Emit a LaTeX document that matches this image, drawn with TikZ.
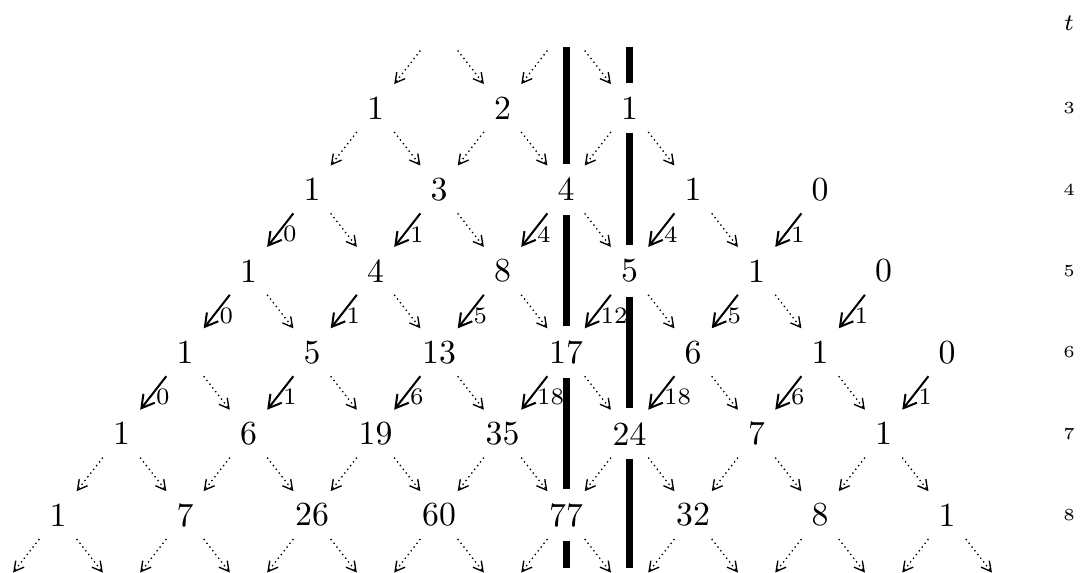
\documentclass[tikz,border=0pt]{standalone}
\usetikzlibrary{arrows.meta, calc}

\begin{document}
\begin{tikzpicture}[
    x=0.6615cm, y=-0.848cm,
    num/.style={inner sep=4pt},
    arr/.style={-{Straight Barb[length=1.3mm, width=1.5mm]}, semithick, shorten <=9pt, shorten >=9pt},
    dotarr/.style={-{Straight Barb[length=1mm, width=1.1mm]}, densely dotted, shorten <=9pt, shorten >=9pt},
    lbl/.style={right, pos=0.55, inner sep=1.5pt, font=\scriptsize},
    bar/.style={line width=2.1pt},
    tlab/.style={font=\tiny},
]

\useasboundingbox (-0.913,1.673) rectangle (16.14,8.70);

% numbers, row by row
\foreach \k/\v in {5/1, 7/2, 9/1} { \node[num] (n3-\k) at (\k,3) {\v}; }
\foreach \k/\v in {4/1, 6/3, 8/4, 10/1, 12/0} { \node[num] (n4-\k) at (\k,4) {\v}; }
\foreach \k/\v in {3/1, 5/4, 7/8, 9/5, 11/1, 13/0} { \node[num] (n5-\k) at (\k,5) {\v}; }
\foreach \k/\v in {2/1, 4/5, 6/13, 8/17, 10/6, 12/1, 14/0} { \node[num] (n6-\k) at (\k,6) {\v}; }
\foreach \k/\v in {1/1, 3/6, 5/19, 7/35, 9/24, 11/7, 13/1} { \node[num] (n7-\k) at (\k,7) {\v}; }
\foreach \k/\v in {0/1, 2/7, 4/26, 6/60, 8/77, 10/32, 12/8, 14/1} { \node[num] (n8-\k) at (\k,8) {\v}; }

% hidden rows above and below
\coordinate (n2-6) at (6,2);
\coordinate (n2-8) at (8,2);
\foreach \k in {-1,1,...,15} { \coordinate (n9-\k) at (\k,9); }

% t axis
\node[font=\scriptsize] (lt) at (15.92,1.96) {$t$};
\foreach \t in {3,...,8} { \node[tlab] (l\t) at (15.92,\t) {\t}; }

% dotted arrows
\foreach \a/\b in {n2-6/n3-5, n2-6/n3-7, n2-8/n3-7, n2-8/n3-9} {
    \draw[dotarr] (\a.center) -- (\b.center);
}
\foreach \t/\ks in {3/{5,7,9}, 7/{1,3,...,13}, 8/{0,2,...,14}} {
    \pgfmathtruncatemacro\s{\t+1}
    \foreach \k in \ks {
        \pgfmathtruncatemacro\l{\k-1}
        \pgfmathtruncatemacro\r{\k+1}
        \draw[dotarr] (n\t-\k.center) -- (n\s-\l.center);
        \draw[dotarr] (n\t-\k.center) -- (n\s-\r.center);
    }
}
\foreach \t/\ks in {4/{4,6,8,10}, 5/{3,5,...,11}, 6/{2,4,...,12}} {
    \pgfmathtruncatemacro\s{\t+1}
    \foreach \k in \ks {
        \pgfmathtruncatemacro\r{\k+1}
        \draw[dotarr] (n\t-\k.center) -- (n\s-\r.center);
    }
}

% weighted arrows
\foreach \t/\k/\w in {4/4/0, 4/6/1, 4/8/4, 4/10/4, 4/12/1,
                      5/3/0, 5/5/1, 5/7/5, 5/9/12, 5/11/5, 5/13/1,
                      6/2/0, 6/4/1, 6/6/6, 6/8/18, 6/10/18, 6/12/6, 6/14/1} {
    \pgfmathtruncatemacro\s{\t+1}
    \pgfmathtruncatemacro\l{\k-1}
    \draw[arr] (n\t-\k.center) -- node[lbl] {\w} (n\s-\l.center);
}

% the two walls
\coordinate (top8) at (8,2.25);
\coordinate (top9) at (9,2.25);
\coordinate (bot8) at (8,8.65);
\coordinate (bot9) at (9,8.65);
\foreach \a/\b in {top8/n4-8, n4-8/n6-8, n6-8/n8-8, n8-8/bot8,
                   top9/n3-9, n3-9/n5-9, n5-9/n7-9, n7-9/bot9} {
    \draw[bar] (\a) -- (\b);
}

\end{tikzpicture}
\end{document}
